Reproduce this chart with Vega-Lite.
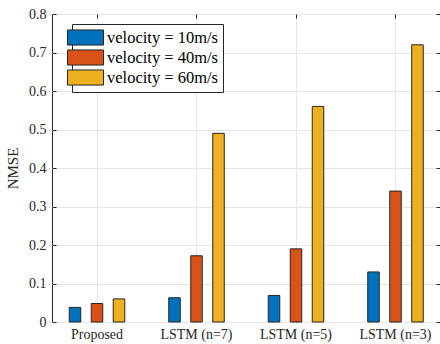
{
  "$schema": "https://vega.github.io/schema/vega-lite/v6.json",
  "width": 388,
  "height": 308,
  "autosize": "none",
  "padding": {"left": 52, "top": 14, "right": 0, "bottom": 22},
  "background": "white",
  "config": {
    "font": "Liberation Serif",
    "view": {"stroke": "#262626", "strokeWidth": 1}
  },
  "data": {
    "values": [
      {"method": "Proposed", "velocity": "velocity = 10m/s", "nmse": 0.038},
      {"method": "Proposed", "velocity": "velocity = 40m/s", "nmse": 0.048},
      {"method": "Proposed", "velocity": "velocity = 60m/s", "nmse": 0.06},
      {"method": "LSTM (n=7)", "velocity": "velocity = 10m/s", "nmse": 0.063},
      {"method": "LSTM (n=7)", "velocity": "velocity = 40m/s", "nmse": 0.172},
      {"method": "LSTM (n=7)", "velocity": "velocity = 60m/s", "nmse": 0.49},
      {"method": "LSTM (n=5)", "velocity": "velocity = 10m/s", "nmse": 0.069},
      {"method": "LSTM (n=5)", "velocity": "velocity = 40m/s", "nmse": 0.19},
      {"method": "LSTM (n=5)", "velocity": "velocity = 60m/s", "nmse": 0.56},
      {"method": "LSTM (n=3)", "velocity": "velocity = 10m/s", "nmse": 0.13},
      {"method": "LSTM (n=3)", "velocity": "velocity = 40m/s", "nmse": 0.34},
      {"method": "LSTM (n=3)", "velocity": "velocity = 60m/s", "nmse": 0.72}
    ]
  },
  "resolve": {"axis": {"x": "independent", "y": "independent"}},
  "layer": [
    {
      "mark": {"type": "bar", "stroke": "#262626", "strokeWidth": 1},
      "encoding": {
        "x": {
          "field": "method",
          "type": "nominal",
          "sort": ["Proposed", "LSTM (n=7)", "LSTM (n=5)", "LSTM (n=3)"],
          "scale": {"range": [-4.75, 393.25], "paddingInner": 0, "paddingOuter": 0},
          "axis": {
            "title": null,
            "labelAngle": 0,
            "labelFont": "Liberation Serif",
            "labelFontSize": 14,
            "labelColor": "#262626",
            "bandPosition": 0.5,
            "grid": true,
            "gridColor": "#e6e6e6",
            "domain": false,
            "tickSize": -4,
            "tickColor": "#262626",
            "labelPadding": 9
          }
        },
        "xOffset": {
          "field": "velocity",
          "type": "nominal",
          "scale": {"paddingInner": 0.477, "paddingOuter": 1.0}
        },
        "y": {
          "field": "nmse",
          "type": "quantitative",
          "scale": {"domain": [0, 0.8], "nice": false},
          "axis": {
            "title": "NMSE",
            "titleFont": "Liberation Serif",
            "titleFontSize": 15,
            "titleFontWeight": "normal",
            "titleColor": "#262626",
            "titlePadding": 8,
            "values": [0, 0.1, 0.2, 0.3, 0.4, 0.5, 0.6, 0.7, 0.8],
            "format": "~g",
            "labelFont": "Liberation Serif",
            "labelFontSize": 14,
            "labelColor": "#262626",
            "grid": true,
            "gridColor": "#e6e6e6",
            "domain": false,
            "tickSize": -4,
            "tickColor": "#262626",
            "labelPadding": 10
          }
        },
        "color": {
          "field": "velocity",
          "type": "nominal",
          "scale": {"range": ["#0072BD", "#D95319", "#EDB120"]},
          "legend": {
            "title": null,
            "orient": "none",
            "legendX": 20,
            "legendY": 10,
            "symbolType": "M-2,-0.84H2V0.84H-2Z",
            "symbolSize": 324,
            "symbolStrokeColor": "#262626",
            "symbolStrokeWidth": 1,
            "symbolOpacity": 1,
            "labelFont": "Liberation Serif",
            "labelFontSize": 16.5,
            "labelColor": "#000000",
            "labelOffset": 12,
            "rowPadding": -1,
            "padding": 4,
            "strokeColor": "#262626",
            "fillColor": "white",
            "labelLimit": 300
          }
        }
      }
    },
    {
      "mark": {"type": "bar", "opacity": 0},
      "encoding": {
        "x": {
          "field": "method",
          "type": "nominal",
          "sort": ["Proposed", "LSTM (n=7)", "LSTM (n=5)", "LSTM (n=3)"],
          "axis": {
            "orient": "top",
            "title": null,
            "labels": false,
            "bandPosition": 0.5,
            "grid": false,
            "domain": false,
            "tickSize": -4,
            "tickColor": "#262626"
          }
        },
        "y": {
          "field": "nmse",
          "type": "quantitative",
          "axis": {
            "orient": "right",
            "title": null,
            "labels": false,
            "values": [0, 0.1, 0.2, 0.3, 0.4, 0.5, 0.6, 0.7, 0.8],
            "grid": false,
            "domain": false,
            "tickSize": -4,
            "tickColor": "#262626"
          }
        }
      }
    }
  ]
}
